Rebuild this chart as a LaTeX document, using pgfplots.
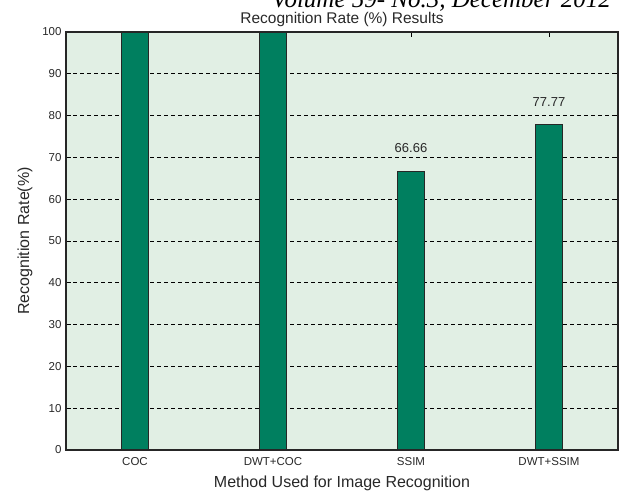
\documentclass[border=0pt]{standalone}
\usepackage{pgfplots}
\pgfplotsset{compat=1.18}
\usepackage{fontspec}
\setmainfont{Liberation Sans}
\newfontfamily\serifit{Liberation Serif}
\definecolor{bgc}{RGB}{225,239,228}
\definecolor{barc}{RGB}{0,127,95}
\definecolor{txtc}{RGB}{40,40,40}
\begin{document}
\begin{tikzpicture}[x=1pt,y=1pt]
\path[use as bounding box] (0,0) rectangle (625,494);
\clip (0,0) rectangle (625,494);
\node[anchor=base east, inner sep=0pt, font=\serifit\itshape\fontsize{25}{25}\selectfont] at (611,486) {Volume 59- No.3, December 2012};
\begin{axis}[
  at={(66pt,44pt)}, anchor=south west,
  scale only axis, width=552pt, height=418pt,
  xmin=0.5, xmax=4.5, ymin=0, ymax=100,
  xtick={1,2,3,4}, xticklabels={COC,DWT+COC,SSIM,DWT+SSIM},
  ytick={0,10,...,100},
  /pgf/number format/assume math mode=true,
  tick label style={font=\fontsize{11.5}{12}\selectfont, text=txtc},
  tick align=inside,
  major tick length=5pt,
  tick style={black, line width=0.8pt},
  axis line style={black!85, line width=1.2pt},
  axis background/.style={fill=bgc},
  ymajorgrids,
  major grid style={black, dashed, line width=0.9pt, dash pattern=on 4pt off 3pt},
  title={Recognition Rate (\%) Results},
  title style={font=\fontsize{15.5}{16}\selectfont, at={(0.5,1)}, anchor=base, yshift=2pt, inner sep=0pt, text=txtc},
  xlabel={Method Used for Image Recognition},
  ylabel={Recognition Rate(\%)},
  label style={font=\fontsize{16}{17}\selectfont, text=txtc},
  xlabel style={yshift=-3pt},
  ylabel style={yshift=3pt},
  yticklabel style={xshift=-1pt},
  xticklabel style={yshift=-4pt},
]
\addplot[ybar, bar width=27pt, bar shift=0pt, fill=barc, draw=black!85, line width=1.1pt,
  point meta=explicit symbolic,
  nodes near coords,
  nodes near coords style={font=\fontsize{13}{14}\selectfont, text=txtc, yshift=15pt}]
  coordinates {(1,100) [] (2,100) [] (3,66.66) [66.66] (4,77.77) [77.77]};
\end{axis}
\end{tikzpicture}
\end{document}
